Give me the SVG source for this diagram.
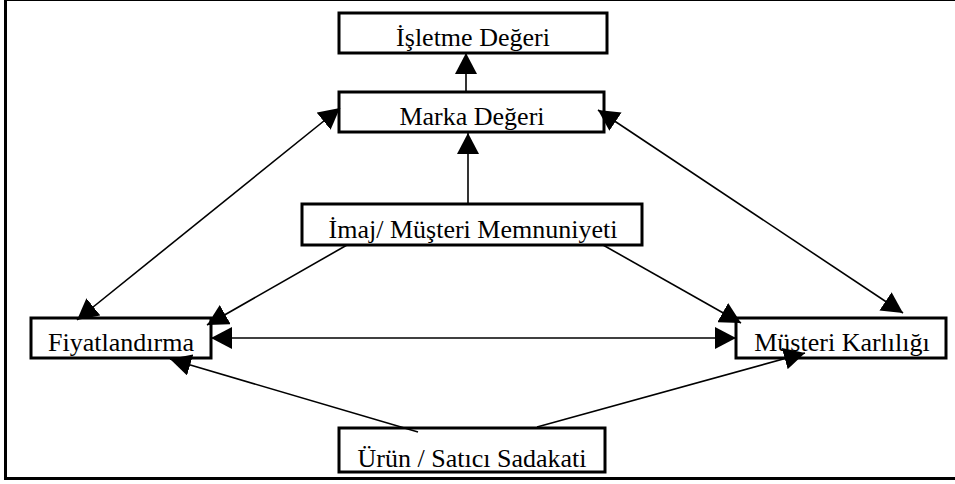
<svg xmlns="http://www.w3.org/2000/svg" width="955" height="484" viewBox="0 0 955 484">
<style>
.box{fill:#fff;stroke:#000;stroke-width:3}
.lbl{font-family:'Liberation Serif','DejaVu Serif',serif;font-size:26px;fill:#000;text-anchor:middle}
.c{stroke:#000;stroke-width:1.6;fill:none}
.one{marker-end:url(#ah)}
.two{marker-end:url(#ah);marker-start:url(#ah)}
</style>
<defs>
<marker id="ah" markerUnits="userSpaceOnUse" markerWidth="22" markerHeight="22" refX="21" refY="11" orient="auto-start-reverse" viewBox="0 0 22 22">
<path d="M0,0 L21,11 L0,22 z" fill="#000"/>
</marker>
</defs>
<rect x="0" y="0" width="955" height="484" fill="#fff"/>
<g id="frame" fill="none" stroke="#000">
<line x1="5.5" y1="0" x2="5.5" y2="480" stroke-width="3"/>
<line x1="4" y1="0.5" x2="955" y2="0.5" stroke-width="1"/>
<line x1="4" y1="478.5" x2="955" y2="478.5" stroke-width="3"/>
</g>
<g id="isletme"><rect class="box" x="339" y="13" width="268" height="40"/><text class="lbl" font-family="Liberation Serif, serif" x="473" y="46">İşletme Değeri</text></g>
<g id="marka"><rect class="box" x="339" y="92" width="265" height="40"/><text class="lbl" font-family="Liberation Serif, serif" x="472" y="125">Marka Değeri</text></g>
<g id="imaj"><rect class="box" x="302" y="204" width="340" height="41"/><text class="lbl" font-family="Liberation Serif, serif" x="473" y="238">İmaj/ Müşteri Memnuniyeti</text></g>
<g id="fiyat"><rect class="box" x="31" y="318" width="180" height="40"/><text class="lbl" font-family="Liberation Serif, serif" x="121" y="351">Fiyatlandırma</text></g>
<g id="musteri"><rect class="box" x="736" y="318" width="210" height="40"/><text class="lbl" font-family="Liberation Serif, serif" x="842" y="351">Müşteri Karlılığı</text></g>
<g id="urun"><rect class="box" x="339" y="428" width="266" height="44"/><text class="lbl" font-family="Liberation Serif, serif" x="472" y="467">Ürün / Satıcı Sadakati</text></g>
<g id="connectors">
<line class="c one" x1="466" y1="92" x2="466" y2="53"/>
<line class="c one" x1="468" y1="204" x2="468" y2="133"/>
<line class="c two" x1="340" y1="108" x2="77" y2="320"/>
<line class="c two" x1="598" y1="110" x2="903" y2="313"/>
<line class="c one" x1="347" y1="245" x2="207" y2="325"/>
<line class="c one" x1="603" y1="245" x2="741" y2="323"/>
<line class="c two" x1="211" y1="338" x2="736" y2="338"/>
<line class="c one" x1="418" y1="432" x2="170" y2="359"/>
<line class="c one" x1="537" y1="427" x2="805" y2="353"/>
</g>
</svg>
